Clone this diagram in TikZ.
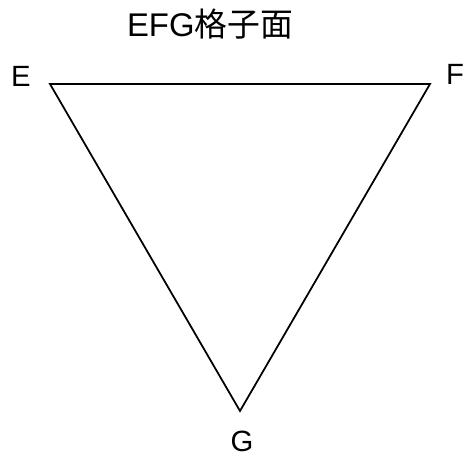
\documentclass[tikz,border=0pt]{standalone}
\usepackage{fontspec}
\setmainfont{Liberation Sans}
\newfontfamily\cjk{Noto Sans CJK JP}
\usepackage{tikz}
\usetikzlibrary{positioning}

\begin{document}
\begin{tikzpicture}[x=0.03cm, y=-0.03cm, lbl/.style={inner sep=0pt, anchor=base, font=\fontsize{25}{30}\selectfont}]
\useasboundingbox (0,0) rectangle (467,461);
% triangle vertices
\coordinate (E) at (50,84);
\coordinate (F) at (430,84);
\coordinate (G) at (240,411);
% face
\draw[line width=1.5pt, line join=miter] (E)--(F)--(G)--cycle;
% labels
\node[lbl] (lE) at (21,87) {E};
\node[lbl] (lF) at (455,85) {F};
\node[lbl] (lG) at (242,452) {G};
\node[lbl, font=\fontsize{28}{34}\selectfont] (title) at (210,37) {EFG{\cjk 格子面}};
\end{tikzpicture}
\end{document}
